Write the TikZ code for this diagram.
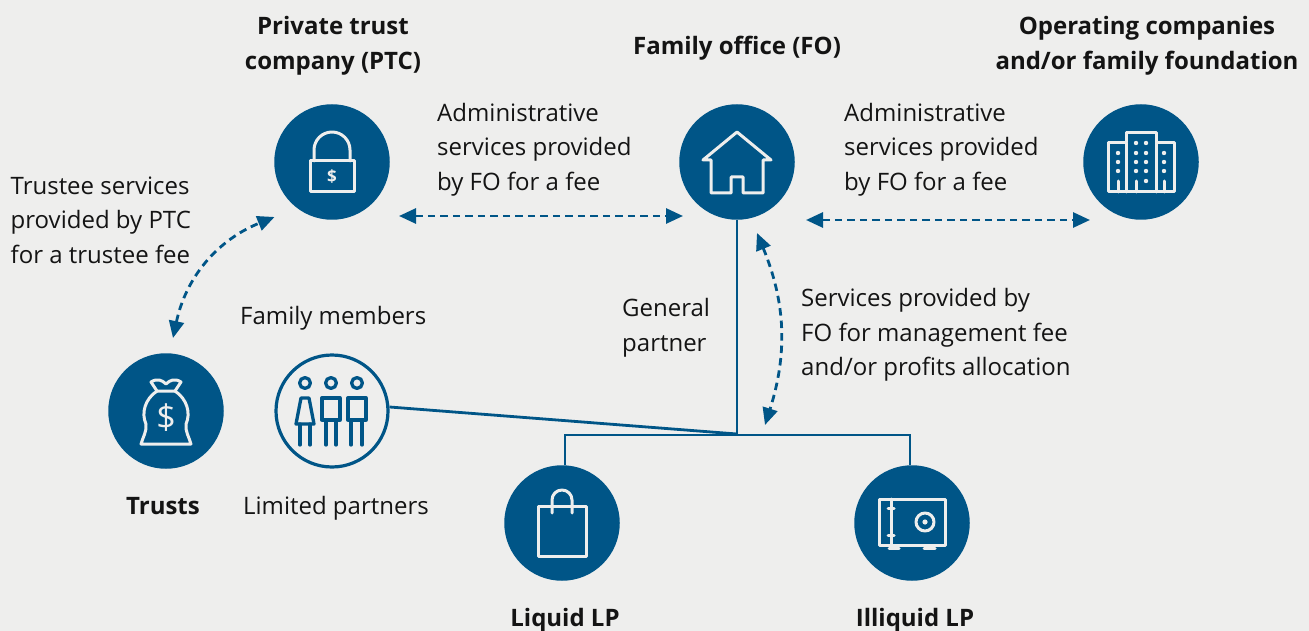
\documentclass[tikz,border=0pt]{standalone}
\usepackage{fontspec}
\setmainfont{Open Sans}
\usetikzlibrary{arrows.meta}
\definecolor{fblue}{HTML}{005587}
\definecolor{fgray}{HTML}{EEEEED}
\definecolor{ftext}{HTML}{141414}
\tikzset{
  disc/.style={circle, fill=fblue, minimum size=115.5pt, inner sep=0pt},
  ringdisc/.style={circle, draw=fblue, line width=3.2pt, minimum size=112pt, inner sep=0pt},
  note/.style={anchor=west, align=left, inner sep=0pt, text=ftext, font=\fontsize{24}{34.6}\selectfont},
  head/.style={align=center, text=ftext, font=\fontsize{24}{34.6}\selectfont\bfseries},
  icon/.style={draw=fgray, line width=3pt, line join=round, line cap=round},
  personline/.style={draw=fblue, line width=3.3pt, line join=round, line cap=round},
  solidlink/.style={draw=fblue, line width=2.8pt},
  service/.style={draw=fblue, line width=2.8pt, dash pattern=on 7.5pt off 5pt, {Triangle[length=17pt,width=15pt]}-{Triangle[length=17pt,width=15pt]}}
}
\begin{document}
\begin{tikzpicture}[x=1pt, y=-1pt]
  \useasboundingbox [fill=fgray] (0,0) rectangle (1309,631);

  % circles
  \node [disc] (ptc) at (332,162) {};
  \node [disc] (fo) at (737,162) {};
  \node [disc] (ops) at (1141,162) {};
  \node [disc] (trusts) at (166,411) {};
  \node [ringdisc] (members) at (332,411) {};
  \node [disc] (liquid) at (562,523) {};
  \node [disc] (illiquid) at (912,523) {};

  % headings
  \node [head] (ptchead) at (333,45.5) {Private trust\\company (PTC)};
  \node [head] (fohead) at (737,48) {Family office (FO)};
  \node [head] (opshead) at (1147,45.5) {Operating companies\\and/or family foundation};
  \node [head] (trustshead) at (163,506) {Trusts};
  \node [head] (liquidhead) at (565,620.5) {Liquid LP};
  \node [head] (illiquidhead) at (915,620.5) {Illiquid LP};

  % notes
  \node [note] (adminleft) at (437,149.5) {Administrative\\services provided\\by FO for a fee};
  \node [note] (adminright) at (844,149.5) {Administrative\\services provided\\by FO for a fee};
  \node [note] (trustee) at (10.5,220) {Trustee services\\provided by PTC\\for a trustee fee};
  \node [note] (familynote) at (240,318) {Family members};
  \node [note] (general) at (622,327.5) {General\\partner};
  \node [note] (mgmt) at (801,335) {Services provided by\\FO for management fee\\and/or profits allocation};
  \node [note] (limited) at (243,508) {Limited partners};

  % partnership lines
  \coordinate (join) at (737,434);
  \coordinate (busleft) at (565,435);
  \coordinate (busright) at (910,435);
  \draw [solidlink] (fo.south) -- (join);
  \draw [solidlink] (members.4) -- (join);
  \draw [solidlink] (liquid.north -| busleft) -- (busleft) -- (busright) -- (illiquid.north -| busright);

  % service arrows
  \coordinate (ptcright) at (399,216);
  \coordinate (foleft) at (683,216);
  \coordinate (foright) at (806,220);
  \coordinate (opsleft) at (1090,220);
  \coordinate (ptcbelow) at (274.5,217);
  \coordinate (trustsabove) at (173,338);
  \coordinate (fobelow) at (757,233);
  \coordinate (joinabove) at (765,425);
  \draw [service] (ptcright) -- (foleft);
  \draw [service] (foright) -- (opsleft);
  \draw [service] (trustsabove) to [bend left=28] (ptcbelow);
  \draw [service] (fobelow) to [bend left=20] (joinabove);

  % lock
  \begin{scope}[shift={(ptc.center)}]
    \draw [icon] (-22,-1) rectangle (22,30);
    \draw [icon] (-18,-1) -- (-18,-12) arc [start angle=180, end angle=360, radius=18] -- (18,-1);
    \node [text=fgray, font=\fontsize{17}{17}\selectfont\bfseries] (lockmark) at (0,15) {\$};
  \end{scope}

  % house
  \begin{scope}[shift={(fo.center)}]
    \draw [icon] (-34,-2) -- (0,-30) -- (34,-2) -- (26,-2) -- (26,31) -- (6,31) -- (6,15) -- (-6,15) -- (-6,31) -- (-26,31) -- (-26,-2) -- cycle;
  \end{scope}

  % buildings
  \begin{scope}[shift={(ops.center)}]
    \draw [icon] (-33,30) -- (-33,-19) -- (-15,-19) -- (-15,-29) -- (15,-29) -- (15,-19) -- (33,-19) -- (33,30) -- cycle;
    \draw [icon] (-15,-19) -- (-15,30) (15,-19) -- (15,30);
    \draw [icon] (-23,19) -- (-23,30) (-5,19) -- (-5,30) (23,19) -- (23,30);
    \foreach \dotx in {-23,23}
      \foreach \doty in {-9,0,9}
        \fill [fgray] (\dotx,\doty) circle [radius=2.2];
    \foreach \dotx in {-5,5}
      \foreach \doty in {-19,-9,0,9}
        \fill [fgray] (\dotx,\doty) circle [radius=2.2];
    \fill [fgray] (5,19) circle [radius=2.2];
  \end{scope}

  % money bag
  \begin{scope}[shift={(trusts.center)}]
    \draw [icon] (-9,-20) .. controls (-21,-12) and (-25,2) .. (-20,13) .. controls (-19,20) and (-23,26) .. (-25,33) -- (25,33) .. controls (23,26) and (19,20) .. (20,13) .. controls (25,2) and (21,-12) .. (9,-20);
    \draw [icon] (-9,-20) -- (9,-20) -- (15,-29) .. controls (9,-33) and (4,-31) .. (0,-27) .. controls (-4,-31) and (-9,-33) .. (-15,-29) -- cycle;
    \node [text=fgray, font=\fontsize{34}{34}\selectfont] (bagmark) at (0,7) {\$};
  \end{scope}

  % family members
  \begin{scope}[shift={(members.center)}]
    \foreach \headx in {-27,-1,25}
      \draw [personline] (\headx,-28) circle [radius=5.4];
    \draw [personline] (-31,-13) -- (-23,-13) -- (-18,13) -- (-36,13) -- cycle;
    \draw [personline] (-32,13) -- (-32,34) (-22,13) -- (-22,34);
    \draw [personline] (-10,-13) rectangle (8,9);
    \draw [personline] (-6,9) -- (-6,34) (4,9) -- (4,34);
    \draw [personline] (16,-13) rectangle (34,9);
    \draw [personline] (19,9) -- (19,34) (30,9) -- (30,34);
  \end{scope}

  % shopping bag
  \begin{scope}[shift={(liquid.center)}]
    \draw [icon] (-24,-17) rectangle (24,33);
    \draw [icon] (-10,-10) -- (-10,-23) arc [start angle=180, end angle=360, radius=10] -- (10,-10);
  \end{scope}

  % safe
  \begin{scope}[shift={(illiquid.center)}]
    \draw [icon] (-33,-24) rectangle (33,22);
    \draw [icon] (-21,-24) -- (-21,22);
    \draw [icon] (-24,-15) -- (-18,-15) (-24,12) -- (-18,12);
    \draw [icon] (13,-1) circle [radius=9];
    \fill [fgray] (13,-1) circle [radius=2.6];
    \draw [icon] (-23,25) -- (-13,25) (12,25) -- (23,25);
  \end{scope}
\end{tikzpicture}
\end{document}
